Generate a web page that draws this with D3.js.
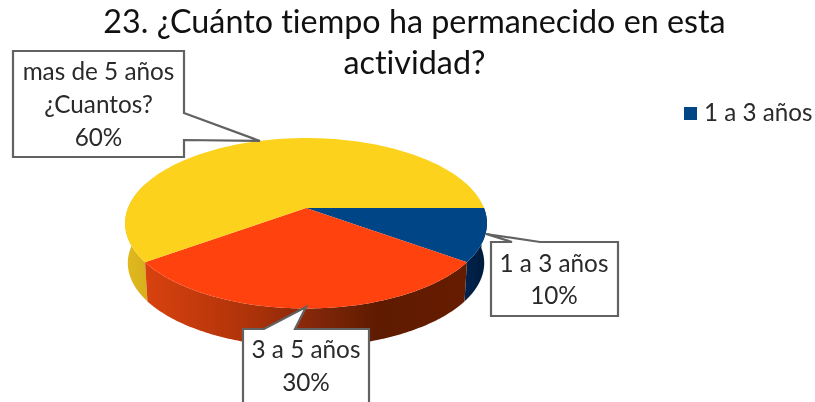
<!DOCTYPE html>
<html><head><meta charset="utf-8">
<script src="https://cdn.jsdelivr.net/npm/d3@7"></script>
<style>html,body{margin:0;padding:0;background:#fff}svg{display:block;filter:blur(0.35px)}text{font-family:Lato,"Open Sans",sans-serif;font-variant-ligatures:none}</style>
</head><body><svg id="c" width="815" height="402"></svg>
<script>
const categories = ["1 a 3 años", "3 a 5 años", "mas de 5 años ¿Cuantos?"];
const values = [10, 30, 60];
const valueLabels = ["10%", "30%", "60%"];
const titleLines = ["23. ¿Cuánto tiempo ha permanecido en esta", "actividad?"];
const legendItems = ["1 a 3 años"];
const topColors = ["#004586", "#ff420e", "#fcd21c"];

const svg = d3.select("#c");
const defs = svg.append("defs");
const grad = (id, x1, x2, stops) => {
  const g = defs.append("linearGradient").attr("id", id).attr("gradientUnits", "userSpaceOnUse")
    .attr("x1", x1).attr("x2", x2).attr("y1", 0).attr("y2", 0);
  stops.forEach(s => g.append("stop").attr("offset", s[0]).attr("stop-color", s[1]));
};
grad("wb", 464, 487, [[0, "#00244f"], [1, "#001a3a"]]);
grad("wo", 146, 467, [[0, "#d8420f"], [0.33, "#ad3209"], [0.52, "#84270a"], [0.72, "#5e1b00"], [1, "#661c00"]]);
grad("wy", 125, 148, [[0, "#e2bb1c"], [1, "#d6ae1e"]]);
const wallFill = ["url(#wb)", "url(#wo)", "url(#wy)"];

// perspective projection of the pie's plan circle
const cx = 306, cy = 208, A = 178, B = 82.5, T = 0.179, depth = 40, shrink = 0.985;
const project = (a, r, low) => {
  const px = Math.sin(a) * r, py = -Math.cos(a) * r, w = 1 - T * py, s = low ? shrink : 1;
  return [cx + A * px / w * s, cy + B * py / w * s + (low ? depth : 0)];
};
const arcs = d3.pie().sort(null).startAngle(Math.PI / 2).endAngle(Math.PI / 2 + 2 * Math.PI)(values);
const line = d3.line();
const samples = (a0, a1) => d3.range(0, 121).map(i => a0 + (a1 - a0) * i / 120);

// walls: only the front-facing part
const maxFront = Math.PI * 1.6;
[2, 0, 1].forEach(i => {
  const a0 = arcs[i].startAngle, a1 = Math.min(arcs[i].endAngle, maxFront);
  const ang = samples(a0, a1);
  const pts = ang.map(a => project(a, 1, false)).concat(ang.slice().reverse().map(a => project(a, 1, true)));
  svg.append("path").attr("d", line(pts) + "Z").attr("fill", wallFill[i]);
});
// top faces
arcs.forEach((d, i) => {
  const pts = [[cx, cy]].concat(samples(d.startAngle, d.endAngle).map(a => project(a, 1, false)));
  svg.append("path").attr("d", line(pts) + "Z").attr("fill", topColors[i]);
});

// title
svg.append("g").selectAll("text").data(titleLines).join("text")
  .attr("x", 414.5).attr("y", (d, i) => 33 + i * 41).attr("text-anchor", "middle")
  .attr("font-size", 32.3).attr("fill", "#111").text(d => d);

// legend
svg.append("rect").attr("x", 684).attr("y", 107).attr("width", 13).attr("height", 13).attr("fill", topColors[0]);
svg.append("text").attr("x", 704).attr("y", 121).attr("font-size", 24.2).attr("fill", "#2a2a2a").text(legendItems[0]);

// callouts
const callouts = [
  { box: [13, 51, 184, 157], tail: [[184, 113], [260, 141], [184, 140]], side: "r", cxT: 98.5, lines: ["mas de 5 años", "¿Cuantos?", valueLabels[2]], y0: 80, dy: 33 },
  { box: [491, 242, 618, 316], tail: [[512, 242], [486, 234], [540, 242]], side: "t", cxT: 554, lines: [categories[0], valueLabels[0]], y0: 272, dy: 32 },
  { box: [243, 329, 369, 412], tail: [[264, 329], [306, 307], [295, 329]], side: "t", cxT: 306, lines: [categories[1], valueLabels[1]], y0: 358, dy: 33 }
];
callouts.forEach(c => {
  const [x0, y0, x1, y1] = c.box;
  const pts = c.side === "r"
    ? [[x0, y0], [x1, y0], ...c.tail, [x1, y1], [x0, y1]]
    : [[x0, y0], ...c.tail, [x1, y0], [x1, y1], [x0, y1]];
  svg.append("path").attr("d", line(pts) + "Z").attr("fill", "#fff").attr("stroke", "#626262").attr("stroke-width", 2.2);
  c.lines.forEach((t, i) => svg.append("text").attr("x", c.cxT).attr("y", c.y0 + i * c.dy)
    .attr("text-anchor", "middle").attr("font-size", 24.3).attr("fill", "#2a2a2a").text(t));
});
</script></body></html>
